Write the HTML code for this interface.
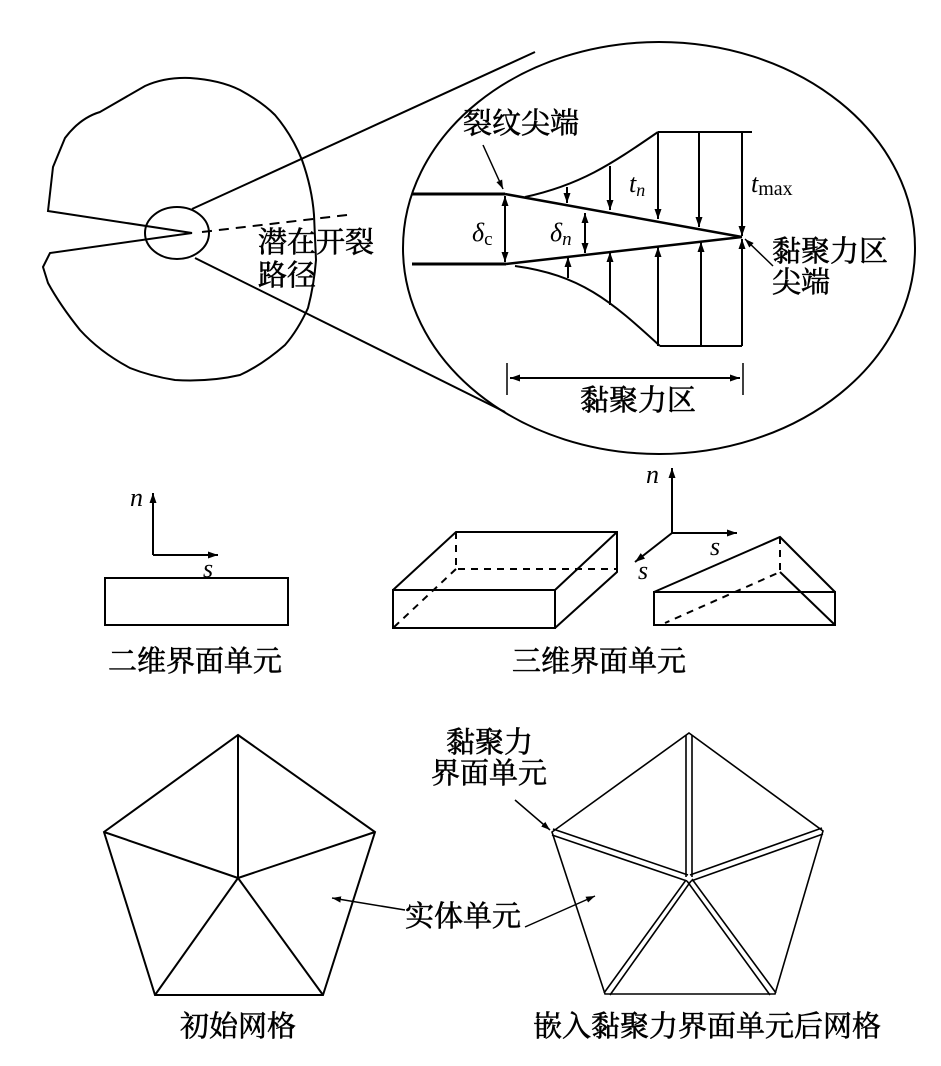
<!DOCTYPE html>
<html><head><meta charset="utf-8"><style>
html,body{margin:0;padding:0;background:#fff;}
svg{display:block}
text{font-family:"Liberation Serif","Noto Serif CJK SC","Noto Sans CJK SC",serif;fill:#000;}
.c{font-size:29px;stroke:#000;stroke-width:0.6px;}
.i{font-style:italic;font-size:26px;}
</style></head><body>
<svg width="941" height="1066" viewBox="0 0 941 1066" xmlns="http://www.w3.org/2000/svg">
<defs>
<marker id="a" viewBox="0 0 10 10" refX="10" refY="5" markerWidth="9" markerHeight="9" markerUnits="userSpaceOnUse" orient="auto-start-reverse"><path d="M0,1.5 L10,5 L0,8.5 z" fill="#000"/></marker>
<marker id="b" viewBox="0 0 10 10" refX="10" refY="5" markerWidth="14" markerHeight="10" markerUnits="userSpaceOnUse" orient="auto-start-reverse"><path d="M0,1.5 L10,5 L0,8.5 z" fill="#000"/></marker>
</defs>
<g fill="none" stroke="#000" stroke-width="2">
<path d="M192,233 L48,211 L53,167 L65,138 Q80,118 100,112 L145,86 Q165,77 190,78 Q220,80 240,90 Q262,102 275,115 Q292,135 302,160 Q312,188 314,215 L316,260 Q314,285 308,308 Q298,330 285,345 Q262,365 240,375 Q210,382 175,380 Q150,376 130,368 Q100,352 80,330 Q60,305 48,283 L43,267 L50,253 Z"/>
<ellipse cx="177" cy="233" rx="32" ry="26"/>
<path d="M202,232 L347,215" stroke-dasharray="10,7"/>
<line x1="192" y1="209" x2="535" y2="52"/>
<line x1="195" y1="258" x2="505" y2="412"/>
<ellipse cx="659" cy="248" rx="256" ry="206"/>
<line x1="412" y1="194" x2="505" y2="194" stroke-width="3"/>
<line x1="412" y1="264" x2="506" y2="264" stroke-width="3"/>
<line x1="505" y1="194" x2="742" y2="237" stroke-width="2.5"/>
<line x1="506" y1="264" x2="742" y2="237" stroke-width="2.5"/>
<path d="M525,197 C580,185 610,165 658,132"/>
<line x1="658" y1="132" x2="752" y2="132"/>
<path d="M515,266 C580,275 610,300 660,346"/>
<line x1="660" y1="346" x2="742" y2="346"/>
<g marker-end="url(#b)">
<line x1="567" y1="187" x2="567" y2="203"/>
<line x1="610" y1="166" x2="610" y2="210"/>
<line x1="658" y1="132" x2="658" y2="219"/>
<line x1="699" y1="132" x2="699" y2="227"/>
<line x1="742" y1="132" x2="742" y2="236"/>
<line x1="568" y1="278" x2="568" y2="257"/>
<line x1="610" y1="305" x2="610" y2="252"/>
<line x1="658" y1="346" x2="658" y2="247"/>
<line x1="701" y1="346" x2="701" y2="242"/>
<line x1="742" y1="346" x2="742" y2="239"/>
</g>
<line x1="505" y1="196" x2="505" y2="262" marker-start="url(#b)" marker-end="url(#b)"/>
<line x1="585" y1="213" x2="585" y2="253" marker-start="url(#b)" marker-end="url(#b)"/>
<line x1="483" y1="145" x2="503" y2="189" stroke-width="1.5" marker-end="url(#a)"/>
<line x1="773" y1="266" x2="745" y2="239" stroke-width="1.5" marker-end="url(#a)"/>
<line x1="507" y1="363" x2="507" y2="395" stroke-width="1.5"/>
<line x1="743" y1="363" x2="743" y2="395" stroke-width="1.5"/>
<line x1="510" y1="378" x2="740" y2="378" marker-start="url(#b)" marker-end="url(#b)"/>
<line x1="153" y1="555" x2="153" y2="493" marker-end="url(#b)"/>
<line x1="153" y1="555" x2="218" y2="555" marker-end="url(#b)"/>
<rect x="105" y="578" width="183" height="47"/>
<rect x="393" y="590" width="162" height="38"/>
<path d="M393,590 L456,532 L617,532 L617,572 L555,628 M555,590 L617,532"/>
<path d="M456,532 L456,569 L617,569 M456,569 L393,628" stroke-dasharray="7,6"/>
<line x1="672" y1="533" x2="672" y2="468" marker-end="url(#b)"/>
<line x1="672" y1="533" x2="737" y2="533" marker-end="url(#b)"/>
<line x1="672" y1="533" x2="635" y2="562" marker-end="url(#b)"/>
<rect x="654" y="592" width="181" height="33"/>
<path d="M654,592 L780,537 L835,592 M780,572 L835,625"/>
<path d="M780,537 L780,572 L665,623" stroke-dasharray="7,6"/>
<path d="M238,735 L375,832 L323,995 L155,995 L104,832 Z M238,878 L238,735 M238,878 L375,832 M238,878 L323,995 M238,878 L155,995 M238,878 L104,832"/>
<g stroke-width="1.6">
<path d="M689,733 L823,831 L775,994 L605,994 L552,832 Z"/>
<path d="M686,735 L686,877 M692,735 L692,877"/>
<path d="M553,829 L688,875 M552,835 L687,881"/>
<path d="M822,828 L690,875 M823,834 L691,881"/>
<path d="M686,880 L604,993 M691,881 L610,995"/>
<path d="M687,881 L770,995 M692,879 L776,993"/>
</g>
<line x1="515" y1="800" x2="550" y2="830" stroke-width="1.5" marker-end="url(#a)"/>
<line x1="405" y1="910" x2="332" y2="898" stroke-width="1.5" marker-end="url(#a)"/>
<line x1="525" y1="927" x2="595" y2="896" stroke-width="1.5" marker-end="url(#a)"/>
</g>
<text class="c" x="463" y="133">裂纹尖端</text>
<text class="i" x="629" y="192">t<tspan font-size="18" dy="4">n</tspan></text>
<text class="i" x="751" y="192">t<tspan font-size="20" font-style="normal" dy="3">max</tspan></text>
<text class="i" x="472" y="241">δ<tspan font-size="19" font-style="normal" dy="4">c</tspan></text>
<text class="i" x="550" y="241">δ<tspan font-size="19" dy="4">n</tspan></text>
<text class="c" x="772" y="261">黏聚力区</text>
<text class="c" x="772" y="292">尖端</text>
<text class="c" x="258" y="252">潜在开裂</text>
<text class="c" x="258" y="285">路径</text>
<text class="c" x="580" y="410">黏聚力区</text>
<text class="i" x="130" y="506">n</text>
<text class="i" x="203" y="577">s</text>
<text class="i" x="646" y="483">n</text>
<text class="i" x="710" y="555">s</text>
<text class="i" x="638" y="579">s</text>
<text class="c" x="108" y="671">二维界面单元</text>
<text class="c" x="512" y="671">三维界面单元</text>
<text class="c" x="446" y="752">黏聚力</text>
<text class="c" x="431" y="783">界面单元</text>
<text class="c" x="405" y="926">实体单元</text>
<text class="c" x="180" y="1036">初始网格</text>
<text class="c" x="533" y="1036">嵌入黏聚力界面单元后网格</text>
</svg>
</body></html>
